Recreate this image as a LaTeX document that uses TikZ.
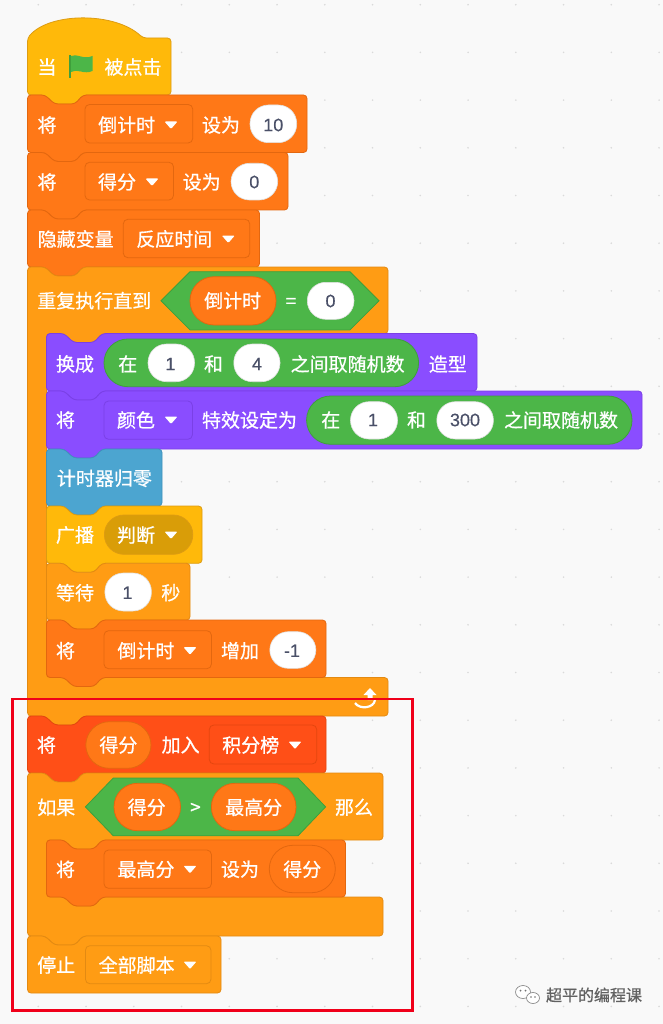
\documentclass[tikz,border=0pt]{standalone}
\usepackage{xcolor}
\usepackage{fontspec}
\usepackage{tikz}
\newfontfamily\cjk[FakeBold=0.7]{Noto Sans CJK SC}
\newfontfamily\digits[FakeBold=0.4]{Liberation Sans}

\definecolor{canvasBg}{HTML}{F9F9F9}
\definecolor{gridDot}{HTML}{DADADA}
\definecolor{eventFill}{HTML}{FFB90A}
\definecolor{eventEdge}{HTML}{DD9C12}
\definecolor{varFill}{HTML}{FF7817}
\definecolor{varEdge}{HTML}{E3670F}
\definecolor{ctrlFill}{HTML}{FF9C14}
\definecolor{ctrlEdge}{HTML}{E38A12}
\definecolor{looksFill}{HTML}{8A4DFF}
\definecolor{looksEdge}{HTML}{7A40E6}
\definecolor{senseFill}{HTML}{4CA5D0}
\definecolor{senseEdge}{HTML}{3F92BC}
\definecolor{listFill}{HTML}{FF4F17}
\definecolor{listEdge}{HTML}{E4460F}
\definecolor{opFill}{HTML}{4CB648}
\definecolor{opEdge}{HTML}{3F9F3C}
\definecolor{numText}{HTML}{4A5068}
\definecolor{markRed}{HTML}{F0001A}

\newcommand{\stackblock}[5]{\draw[#1, rounded corners=3.5pt] (#2,#3) -- (#2+17.5,#3) -- (#2+27,#3+9) -- (#2+47.5,#3+9) -- (#2+55.5,#3) -- (#4,#3) -- (#4,#5) -- (#2+55.5,#5) -- (#2+47.5,#5+9) -- (#2+27,#5+9) -- (#2+17.5,#5) -- (#2,#5) -- cycle;}
\newcommand{\wrapblock}[7]{\draw[#1, rounded corners=3.5pt] (#2,#3) -- (#2+17.5,#3) -- (#2+27,#3+9) -- (#2+47.5,#3+9) -- (#2+55.5,#3) -- (#4,#3) -- (#4,#5) -- (#2+74.5,#5) -- (#2+66.5,#5+9) -- (#2+46,#5+9) -- (#2+36.5,#5) -- (#2+19,#5) -- (#2+19,#6) -- (#2+36.5,#6) -- (#2+46,#6+9) -- (#2+66.5,#6+9) -- (#2+74.5,#6) -- (#4,#6) -- (#4,#7) -- (#2+55.5,#7) -- (#2+47.5,#7+9) -- (#2+27,#7+9) -- (#2+17.5,#7) -- (#2,#7) -- cycle;}
\newcommand{\menuarrow}[2]{\fill[white, rounded corners=1pt] (#1-6.5,#2-3.5) -- (#1+6.5,#2-3.5) -- (#1,#2+4) -- cycle;}
\newcommand{\hexslot}[6]{\draw[fill=opFill, draw=opEdge, line width=0.8pt] (#1,#2) -- (#3,#4) -- (#5,#4) -- (#6,#2) -- (#5,2*#2-#4) -- (#3,2*#2-#4) -- cycle;}

\begin{document}
\begin{tikzpicture}[
        x=1pt, y=-1pt,
        txt/.style = {text = white, font = \fontsize{19}{20}\selectfont\cjk, inner sep=0pt, outer sep=0pt},
        num/.style = {text = numText, font = \fontsize{18}{20}\selectfont\digits, inner sep=0pt, outer sep=0pt},
        wm/.style = {text = black!62, font = \fontsize{16}{18}\selectfont\cjk, inner sep=0pt, outer sep=0pt},
        eventblock/.style = {fill = eventFill, draw = eventEdge, line width=0.8pt},
        varblock/.style = {fill = varFill, draw = varEdge, line width=0.8pt},
        ctrlblock/.style = {fill = ctrlFill, draw = ctrlEdge, line width=0.8pt},
        looksblock/.style = {fill = looksFill, draw = looksEdge, line width=0.8pt},
        senseblock/.style = {fill = senseFill, draw = senseEdge, line width=0.8pt},
        listblock/.style = {fill = listFill, draw = listEdge, line width=0.8pt},
        menubox/.style = {line width=0.8pt, rounded corners=4.5pt},
        numpill/.style = {fill = white, draw = black!12, line width=0.6pt, rounded corners=18.5pt},
        greenpill/.style = {fill = opFill, draw = opEdge, line width=0.8pt, rounded corners=23.5pt},
        varpill/.style = {fill = varFill, draw = varEdge, line width=0.8pt, rounded corners=23.5pt},
    ]
    \useasboundingbox (0,0) rectangle (663,1024);
    \fill[canvasBg] (0,0) rectangle (663,1024);
    \foreach \col in {0,...,13}
        \foreach \row in {0,...,21}
            \fill[gridDot] ({38.3+47.75*\col},{4.7+47.7*\row}) circle (0.9);

    % hat block
    \draw[eventblock, rounded corners=3.5pt] (27.5,38) .. controls (50,12) and (115,12) .. (143,38) -- (171,38) -- (171,95) -- (83,95) -- (75,104) -- (54.5,104) -- (45,95) -- (27.5,95) -- cycle;
    \node[txt] (WhenWord) at (47,67) {当};
    \fill[opEdge] (68.8,55) rectangle (71.4,78.5);
    \fill[opFill] (71,56) .. controls (77,53) and (83,60) .. (92.5,56) -- (92.5,71) .. controls (84,75) and (77,68) .. (71,72) -- cycle;
    \node[txt] (ClickedWord) at (133,67) {被点击};

    % set countdown
    \stackblock{varblock}{27.5}{95}{307}{152.5}
    \node[txt] (SetTimeWord) at (47,125) {将};
    \draw[varblock, menubox] (85,104.5) rectangle (192.7,143);
    \node[txt] (SetTimeMenu) at (126.7,125) {倒计时};
    \menuarrow{171}{125}
    \node[txt] (SetTimeTo) at (221,125) {设为};
    \draw[numpill] (250,105) rectangle (296.7,142.7);
    \node[num] (SetTimeValue) at (273.3,125) {10};

    % set score
    \stackblock{varblock}{27.5}{152.5}{288}{210}
    \node[txt] (SetScoreWord) at (47,182) {将};
    \draw[varblock, menubox] (85,162.3) rectangle (173.5,200);
    \node[txt] (SetScoreMenu) at (117,182) {得分};
    \menuarrow{152}{182}
    \node[txt] (SetScoreTo) at (201.7,182) {设为};
    \draw[numpill] (231,163.3) rectangle (277.7,200);
    \node[num] (SetScoreValue) at (254.3,182) {0};

    % hide variable
    \stackblock{varblock}{27.5}{210}{259.5}{267}
    \node[txt] (HideWord) at (75.7,239) {隐藏变量};
    \draw[varblock, menubox] (123.3,219.3) rectangle (249.7,257.7);
    \node[txt] (HideMenu) at (174.3,239) {反应时间};
    \menuarrow{228.3}{239}

    % repeat until
    \wrapblock{ctrlblock}{27.5}{267}{388}{333.5}{677.5}{716}
    \node[txt] (RepeatWord) at (94.3,300.7) {重复执行直到};
    \hexslot{161}{300.8}{190}{271.7}{350}{379}
    \draw[varpill, rounded corners=24pt] (190,276.7) rectangle (276,325);
    \node[txt] (RepeatVar) at (232.7,300.7) {倒计时};
    \node[txt] (RepeatEq) at (291,303) {=};
    \draw[numpill] (307.3,282.3) rectangle (354,319.3);
    \node[num] (RepeatValue) at (330.5,301) {0};
    \fill[white] (370,688) -- (376.5,695) -- (372.5,695) -- (372.5,700) -- (367.5,700) -- (367.5,695) -- (363.5,695) -- cycle;
    \draw[white, line width=2.2pt] (375,700) .. controls (374,708) and (360,710) .. (355,703);

    % switch costume
    \stackblock{looksblock}{46.5}{333.5}{477}{391}
    \node[txt] (CostumeWord) at (75,364) {换成};
    \draw[greenpill, rounded corners=23.8pt] (104,339) rectangle (418.6,386.7);
    \node[txt] (CostumeIn) at (127.7,364) {在};
    \draw[numpill] (148,344) rectangle (194.5,381.7);
    \node[num] (CostumeLow) at (170.4,364) {1};
    \node[txt] (CostumeAnd) at (213.5,364) {和};
    \draw[numpill] (233.8,344) rectangle (280,381.7);
    \node[num] (CostumeHigh) at (257,364) {4};
    \node[txt] (CostumeRandom) at (347.6,364) {之间取随机数};
    \node[txt] (CostumeTail) at (447.8,364) {造型};

    % colour effect
    \stackblock{looksblock}{46.5}{391}{642}{449}
    \node[txt] (EffectWord) at (65.5,420) {将};
    \draw[looksblock, menubox] (104,401) rectangle (192.4,439.3);
    \node[txt] (EffectMenu) at (136,420) {颜色};
    \menuarrow{171}{420}
    \node[txt] (EffectTo) at (249.5,420) {特效设定为};
    \draw[greenpill, rounded corners=24pt] (306.6,396) rectangle (632,444.3);
    \node[txt] (EffectIn) at (330.7,420) {在};
    \draw[numpill] (350.5,401.7) rectangle (397.5,439);
    \node[num] (EffectLow) at (373,420) {1};
    \node[txt] (EffectAnd) at (416.5,420) {和};
    \draw[numpill] (436.8,401.7) rectangle (493.4,439);
    \node[num] (EffectHigh) at (465,420) {300};
    \node[txt] (EffectRandom) at (561,420) {之间取随机数};

    % timer
    \stackblock{senseblock}{46.5}{449}{162}{506}
    \node[txt] (TimerWord) at (104.4,478.3) {计时器归零};

    % broadcast
    \stackblock{eventblock}{46.5}{506}{202}{563.3}
    \node[txt] (BroadcastWord) at (75,535) {广播};
    \draw[fill=black!15!eventFill, draw=eventEdge, line width=0.8pt, rounded corners=19.6pt] (104.4,515) rectangle (192.8,554.3);
    \node[txt] (BroadcastMenu) at (136,535) {判断};
    \menuarrow{171}{535}

    % wait
    \stackblock{ctrlblock}{46.5}{563.3}{190}{620}
    \node[txt] (WaitWord) at (75,592.7) {等待};
    \draw[numpill] (104.9,573) rectangle (151.4,611);
    \node[num] (WaitValue) at (127.5,592.7) {1};
    \node[txt] (WaitUnit) at (170.8,592.7) {秒};

    % change countdown
    \stackblock{varblock}{46.5}{620}{326}{677.5}
    \node[txt] (ChangeWord) at (65.5,650.7) {将};
    \draw[varblock, menubox] (104,630.7) rectangle (211.4,668.7);
    \node[txt] (ChangeMenu) at (145.9,650.7) {倒计时};
    \menuarrow{190}{650.7}
    \node[txt] (ChangeBy) at (240,650.7) {增加};
    \draw[numpill] (269.8,631.7) rectangle (315.9,668.3);
    \node[num] (ChangeValue) at (292,650.7) {-1};

    % add to list
    \stackblock{listblock}{27.5}{716}{326}{773}
    \node[txt] (ListWord) at (46.5,745) {将};
    \draw[varpill] (85.8,721.7) rectangle (151,768.3);
    \node[txt] (ListVar) at (118.4,745) {得分};
    \node[txt] (ListJoin) at (180.6,745) {加入};
    \draw[listblock, menubox] (209.3,725) rectangle (316.7,764);
    \node[txt] (ListMenu) at (250.7,745) {积分榜};
    \menuarrow{295}{745}

    % if then
    \wrapblock{ctrlblock}{27.5}{773}{383}{840}{897}{936}
    \node[txt] (IfWord) at (56.2,807.3) {如果};
    \hexslot{85.4}{806.9}{113.3}{778}{298}{325.6}
    \draw[varpill] (114,783.3) rectangle (180.5,830.7);
    \node[txt] (IfScore) at (146.7,807.3) {得分};
    \node[txt] (IfGreater) at (195.4,808.5) {>};
    \draw[varpill] (211.4,783.3) rectangle (296,830.7);
    \node[txt] (IfBest) at (253.7,807.3) {最高分};
    \node[txt] (ThenWord) at (354,807.3) {那么};

    % set best
    \stackblock{varblock}{46.5}{840}{345.5}{897}
    \node[txt] (SetBestWord) at (65.5,869.3) {将};
    \draw[varblock, menubox] (104,850) rectangle (211.4,888.3);
    \node[txt] (SetBestMenu) at (145.9,869.3) {最高分};
    \menuarrow{190}{869.3}
    \node[txt] (SetBestTo) at (240,869.3) {设为};
    \draw[varpill] (269.3,845.3) rectangle (335.3,892.7);
    \node[txt] (SetBestVar) at (302.3,869.3) {得分};

    % stop
    \draw[ctrlblock, rounded corners=3.5pt] (27.5,936) -- (45,936) -- (54.5,945) -- (75,945) -- (83,936) -- (221,936) -- (221,993) -- (27.5,993) -- cycle;
    \node[txt] (StopWord) at (56.2,965) {停止};
    \draw[ctrlblock, menubox] (85.4,945.7) rectangle (211,983.7);
    \node[txt] (StopMenu) at (136.6,965) {全部脚本};
    \menuarrow{190}{965}

    % highlight and watermark
    \draw[markRed, line width=2.8pt] (12.7,699) rectangle (412.7,1010.7);
    \draw[fill=white, draw=black!45, line width=0.7pt] (523,992) ellipse (7.5 and 6.5);
    \draw[fill=white, draw=black!45, line width=0.7pt] (533,998) ellipse (6.5 and 5.5);
    \fill[black!55] (520.5,990.5) circle (1) (525.5,990.5) circle (1) (531,997) circle (0.8) (535,997) circle (0.8);
    \node[wm] (WatermarkText) at (594,995) {超平的编程课};
\end{tikzpicture}
\end{document}
